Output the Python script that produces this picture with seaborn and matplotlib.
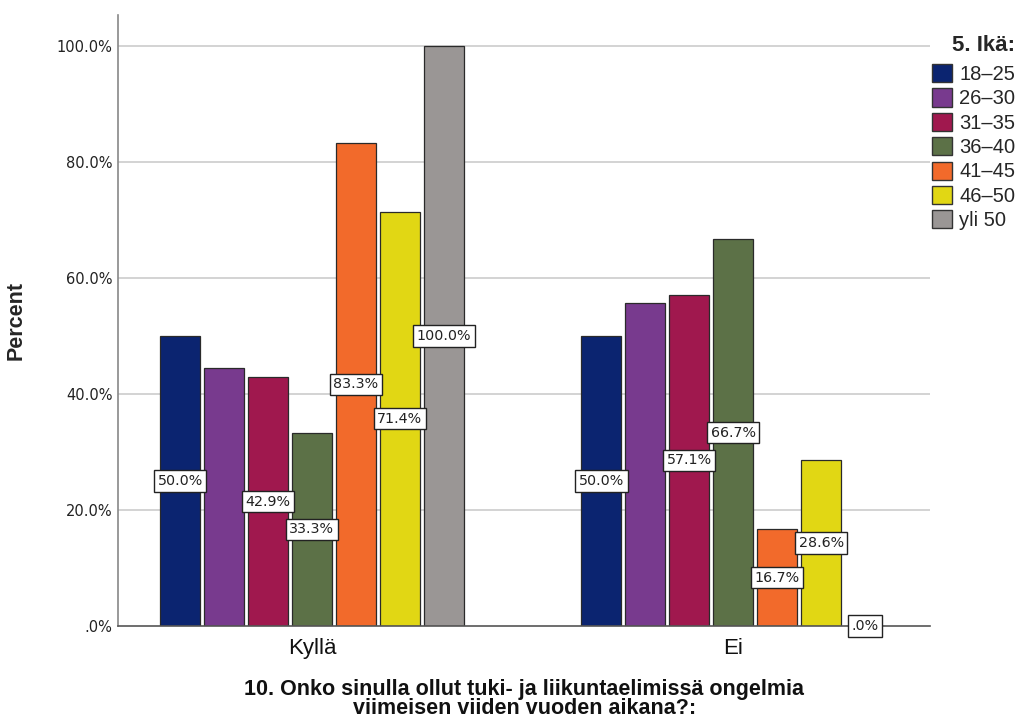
import matplotlib
matplotlib.use("Agg")
import matplotlib.pyplot as plt
import seaborn as sns
import pandas as pd

# Survey answers and age groups
answers = ["Kyllä", "Ei"]
age_groups = ["18–25", "26–30", "31–35", "36–40", "41–45", "46–50", "yli 50"]
pct_kylla = [50.0, 44.4, 42.9, 33.3, 83.3, 71.4, 100.0]
pct_ei = [50.0, 55.6, 57.1, 66.7, 16.7, 28.6, 0.0]
# Age groups whose bars carry a value label
labelled = [True, False, True, True, True, True, True]

colors = ["#0B2470", "#783A8E", "#A0184E", "#5C7147", "#F26A2B", "#E1D714", "#9A9695"]

rows = []
for ans, vals in zip(answers, [pct_kylla, pct_ei]):
    for age, v in zip(age_groups, vals):
        rows.append({"answer": ans, "age": age, "percent": v})
df = pd.DataFrame(rows)

sns.set_style("white")
plt.rcParams["font.family"] = ["DejaVu Sans"]
narrow = ["Liberation Sans", "DejaVu Sans"]

fig = plt.figure(figsize=(10.18, 7.27), dpi=100)
ax = fig.add_axes([0.116, 0.139, 0.798, 0.840])

sns.barplot(data=df, x="answer", y="percent", hue="age", order=answers,
            hue_order=age_groups, palette=colors, width=0.73, gap=0.09,
            edgecolor="#2a2a2a", linewidth=0.9, saturation=1, ax=ax,
            legend=True)

ax.set_xlim(-0.46, 1.468)
ax.set_ylim(0, 105.3)
ax.set_yticks([0, 20, 40, 60, 80, 100])
ax.set_yticklabels([".0%", "20.0%", "40.0%", "60.0%", "80.0%", "100.0%"],
                   fontsize=10.5, color="#222222")
ax.tick_params(axis="x", length=0, pad=9)
ax.tick_params(axis="y", length=0, pad=4)
for lbl in ax.get_xticklabels():
    lbl.set_family(narrow)
    lbl.set_fontsize(16)
    lbl.set_color("#111111")

for y in [20, 40, 60, 80, 100]:
    ax.axhline(y, color="#cccccc", linewidth=1.2, zorder=0)
ax.set_axisbelow(True)

for side in ["top", "right"]:
    ax.spines[side].set_visible(False)
ax.spines["left"].set_color("#888888")
ax.spines["left"].set_linewidth(1.2)
ax.spines["bottom"].set_color("#555555")
ax.spines["bottom"].set_linewidth(1.2)

ax.set_ylabel("Percent", fontsize=15.5, fontweight="bold", family=narrow)
ax.yaxis.set_label_coords(-0.112, 0.5)
ax.set_xlabel("10. Onko sinulla ollut tuki- ja liikuntaelimissä ongelmia\nviimeisen viiden vuoden aikana?:",
              fontsize=15.5, fontweight="bold", linespacing=0.9,
              family=narrow, labelpad=14, color="#111111")

def fmt(v):
    s = f"{v:.1f}%"
    return s[1:] if s.startswith("0") else s

for cont, show, age in zip(ax.containers, labelled, age_groups):
    vals = df[df["age"] == age].set_index("answer").loc[answers, "percent"].tolist()
    labels = [fmt(v) if show else "" for v in vals]
    texts = ax.bar_label(cont, labels=labels, label_type="center", fontsize=10.3,
                         color="#222222")
    for t in texts:
        t.set_bbox(dict(boxstyle="square,pad=0.25", facecolor="white",
                        edgecolor="#222222", linewidth=1.0))
        t.set_zorder(5)

leg = ax.legend(title="5. Ikä:", loc="upper left", bbox_to_anchor=(1.002, 0.968),
                frameon=False, title_fontsize=16,
                handlelength=1.0, handleheight=1.0, handletextpad=0.35,
                labelspacing=0.22, borderaxespad=0, borderpad=0,
                alignment="right", prop={"family": narrow, "size": 14.5})
leg.get_title().set_fontweight("bold")
leg.get_title().set_family(narrow)
leg._legend_box.sep = 6
for h in leg.legend_handles:
    h.set_edgecolor("#333333")
    h.set_linewidth(1.0)

fig.savefig("out.png", dpi=100)
